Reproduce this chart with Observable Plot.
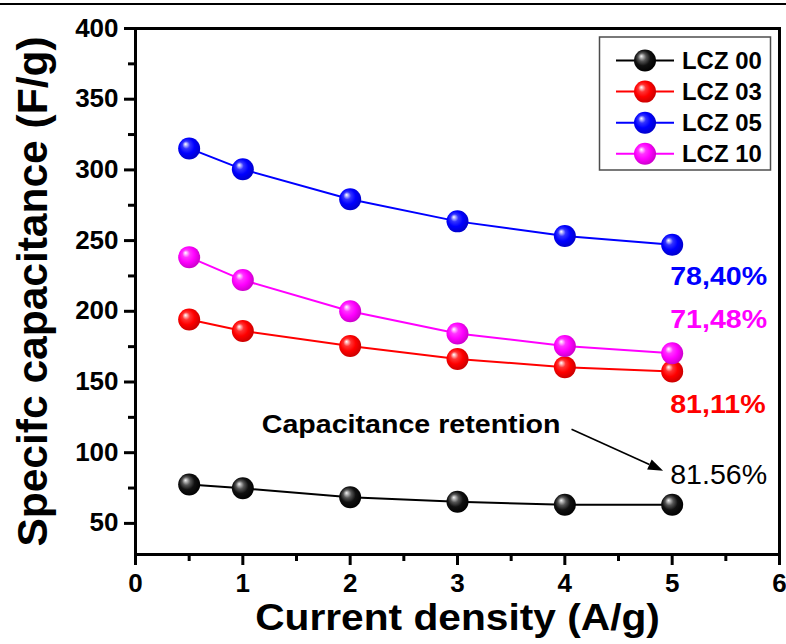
<!DOCTYPE html>
<html>
<head>
<meta charset="utf-8">
<script src="https://cdn.jsdelivr.net/npm/d3@7"></script>
<script src="https://cdn.jsdelivr.net/npm/@observablehq/plot@0.6"></script>
<style>
  html, body { margin: 0; padding: 0; background: #fff; }
  #chart { position: relative; width: 786px; height: 644px; overflow: hidden; background: #fff; }
  #chart svg { position: absolute; left: 0; top: 0; }
  #rule { position: absolute; left: 0; top: 3px; width: 786px; height: 1.5px; background: #000; }
</style>
</head>
<body>
<div id="chart"></div>
<script>
// Current density (A/g) at which each capacitance was measured
const density = [0.5, 1, 2, 3, 4, 5];

// Specific capacitance (F/g) for each composition
const lcz00 = [77.5, 74.8, 68.5, 65.3, 63.2, 63.2];
const lcz03 = [194.2, 186.1, 175.5, 166.3, 160.5, 157.5];
const lcz05 = [315.2, 300.4, 279.3, 263.6, 253.3, 247.1];
const lcz10 = [238.3, 222.1, 200.0, 184.3, 175.5, 170.3];

const seriesNames = ["LCZ 00", "LCZ 03", "LCZ 05", "LCZ 10"];
const retention = ["81.56%", "81,11%", "78,40%", "71,48%"];
const calloutText = "Capacitance retention";

const xTicks = [0, 1, 2, 3, 4, 5, 6];
const xMinor = [0.5, 1.5, 2.5, 3.5, 4.5, 5.5];
const yTicks = [50, 100, 150, 200, 250, 300, 350, 400];
const yMinor = [75, 125, 175, 225, 275, 325, 375];

const xTitle = "Current density (A/g)";
const yTitle = "Specifc capacitance (F/g)";

// ---- styling / layout ----
const seriesColors = ["#000000", "#ff0000", "#0000ff", "#ff00ff"];
const series = [lcz00, lcz03, lcz05, lcz10];
const labelShift = [-29.5, 33, 32, -34];          // vertical offset of each retention label from its last point
const calloutAt = {x: 2.568, y: 120};             // callout text centre (data space)
const arrowFrom = {x: 4.067, y: 116.2};
const arrowTo = {x: 4.92, y: 86.9};
const font = "'Liberation Sans', Arial, Helvetica, sans-serif";

// Radial gradients that give the markers a glossy sphere look
function sphereDefs() {
  const defs = d3.create("svg:defs");
  seriesColors.forEach((c, i) => {
    const g = defs.append("radialGradient")
      .attr("id", `sphere-${i}`)
      .attr("cx", "45%").attr("cy", "45%").attr("r", "58%")
      .attr("fx", "33%").attr("fy", "30%");
    const stops = i === 0
      ? [[0, "#f4f4f4"], [0.12, "#b8b8b8"], [0.32, "#555555"], [0.6, "#111111"], [1, "#000000"]]
      : [[0, "#ffffff"], [0.1, d3.interpolateRgb(c, "#fff")(0.75)], [0.3, d3.interpolateRgb(c, "#fff")(0.2)],
         [0.6, c], [1, d3.color(c).darker(0.7).formatHex()]];
    stops.forEach(([o, col]) => g.append("stop").attr("offset", o).attr("stop-color", col));
  });
  return defs.node();
}

// Arrow from the callout text to the LCZ 00 retention value
function calloutArrow(index, scales) {
  const x1 = scales.x(arrowFrom.x), y1 = scales.y(arrowFrom.y);
  const x2 = scales.x(arrowTo.x), y2 = scales.y(arrowTo.y);
  const a = Math.atan2(y2 - y1, x2 - x1);
  const len = 15, half = 5.5;
  const bx = x2 - len * Math.cos(a), by = y2 - len * Math.sin(a);
  const g = d3.create("svg:g").attr("aria-label", "callout arrow");
  g.append("line").attr("x1", x1).attr("y1", y1).attr("x2", bx).attr("y2", by)
    .attr("stroke", "#000").attr("stroke-width", 1.6);
  g.append("polygon")
    .attr("points", [
      [x2, y2],
      [bx + half * Math.sin(a), by - half * Math.cos(a)],
      [bx - half * Math.sin(a), by + half * Math.cos(a)]
    ].map(p => p.join(",")).join(" "))
    .attr("fill", "#000");
  return g.node();
}

// Boxed legend in the upper-right corner of the frame
function legendBox() {
  const g = d3.create("svg:g").attr("aria-label", "legend");
  g.append("rect").attr("x", 599.5).attr("y", 37).attr("width", 171).attr("height", 133)
    .attr("fill", "#fff").attr("stroke", "#4d4d4d").attr("stroke-width", 1.5);
  seriesNames.forEach((name, i) => {
    const cy = 60.5 + i * 31.1;
    g.append("line").attr("x1", 616).attr("x2", 674).attr("y1", cy).attr("y2", cy)
      .attr("stroke", seriesColors[i]).attr("stroke-width", 2);
    g.append("circle").attr("cx", 645).attr("cy", cy).attr("r", 11).attr("fill", `url(#sphere-${i})`);
    g.append("text").attr("x", 682).attr("y", cy + 8.3).attr("text-anchor", "start")
      .attr("font-size", 23).attr("font-weight", "bold").attr("fill", "#000").text(name);
  });
  return g.node();
}

const seriesMarks = series.flatMap((vals, s) => {
  const pts = density.map((x, i) => ({x, y: vals[i]}));
  return [
    Plot.line(pts, {x: "x", y: "y", stroke: seriesColors[s], strokeWidth: 2}),
    Plot.dot(pts, {x: "x", y: "y", r: 11, fill: `url(#sphere-${s})`})
  ];
});

const retentionMarks = series.map((vals, s) => Plot.text(
  [{x: density[density.length - 1], y: vals[vals.length - 1], label: retention[s]}],
  {x: "x", y: "y", text: "label", textAnchor: "start", dx: -2, dy: labelShift[s],
   fill: seriesColors[s], fontSize: s === 0 ? 27 : 26, fontWeight: s === 0 ? "normal" : "bold"}
));

const plot = Plot.plot({
  width: 786,
  height: 644,
  marginLeft: 135,
  marginRight: 7,
  marginTop: 28,
  marginBottom: 90,
  x: {domain: [0, 6], axis: null},
  y: {domain: [28, 400], axis: null},
  style: {fontFamily: font, fontWeight: "bold", fontSize: "23px", color: "#000", background: "#fff", overflow: "visible"},
  marks: [
    sphereDefs,
    Plot.axisX(xMinor, {tickSize: 7, strokeWidth: 3, tickFormat: () => "", label: null}),
    Plot.axisX(xTicks, {tickSize: 11, tickPadding: 9, strokeWidth: 3, fontSize: 25, fontWeight: "bold", label: null}),
    Plot.axisY(yMinor, {tickSize: 7, strokeWidth: 3, tickFormat: () => "", label: null}),
    Plot.axisY(yTicks, {tickSize: 11, tickPadding: 6, strokeWidth: 3, fontSize: 25, fontWeight: "bold", label: null}),
    Plot.frame({stroke: "#000", strokeWidth: 3}),
    ...seriesMarks,
    ...retentionMarks,
    Plot.text([calloutText], {x: () => calloutAt.x, y: () => calloutAt.y, fontSize: 26}),
    calloutArrow,
    legendBox,
    Plot.text([yTitle], {frameAnchor: "left", textAnchor: "middle", lineAnchor: "middle", dx: -102, rotate: -90, fontSize: 42.5}),
    Plot.text([xTitle], {frameAnchor: "bottom", textAnchor: "middle", lineAnchor: "middle", dy: 64, fontSize: 37})
  ]
});

const chart = document.getElementById("chart");
chart.appendChild(plot);
const rule = document.createElement("div");
rule.id = "rule";
chart.appendChild(rule);

// The lettering is set slightly wide: stretch glyphs horizontally
// (the vertical axis title keeps its natural proportions)
function stretchFor(content) {
  if (content === yTitle) return 1;
  if (seriesNames.includes(content)) return 1.04;
  if (content === retention[0]) return 1.06;
  if (/^\d+$/.test(content)) return 1.04;
  return 1.1;
}
plot.querySelectorAll("text").forEach(t => {
  const content = t.textContent;
  const k = stretchFor(content);
  if (k === 1 || !content) return;
  const w = t.getComputedTextLength();
  if (w > 0) {
    t.setAttribute("textLength", w * k);
    t.setAttribute("lengthAdjust", "spacingAndGlyphs");
  }
});
</script>
</body>
</html>
